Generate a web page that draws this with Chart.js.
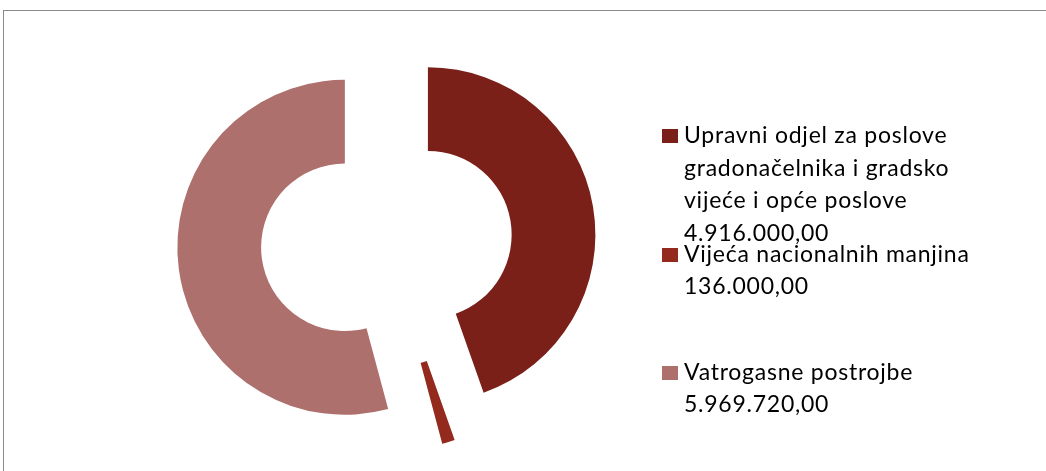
<!DOCTYPE html>
<html>
<head>
<meta charset="utf-8">
<script src="https://cdn.jsdelivr.net/npm/chart.js@4.4.1/dist/chart.umd.min.js"></script>
<style>
  body { margin: 0; background: #fff; }
  #wrap { position: relative; width: 1046px; height: 471px; overflow: hidden; }
  #frame { position: absolute; left: 3px; top: 10px; width: 1100px; height: 500px;
           border-top: 1px solid #8a8a8a; border-left: 1px solid #8a8a8a; }
  #budgetChart { position: absolute; left: 0; top: 0; }
  .item { position: absolute; left: 662px; }
  .box { position: absolute; left: 0; top: 11px; width: 16px; height: 14px; }
  .txt { position: absolute; left: 22px; top: 0; white-space: pre; font-family: Lato, sans-serif;
         font-size: 23px; letter-spacing: 0.75px; line-height: 32.7px; color: #000; }
</style>
</head>
<body>
<div id="wrap">
  <div id="frame"></div>
  <canvas id="budgetChart" width="1046" height="471"></canvas>
  <div id="legend"></div>
</div>
<script>
// Chart data
const categories = [
    'Upravni odjel za poslove\ngradonačelnika i gradsko\nvijeće i opće poslove',
    'Vijeća nacionalnih manjina',
    'Vatrogasne postrojbe'
];
const values = [4916000, 136000, 5969720];
const colors = ['#7a2018', '#94291e', '#ae706c'];
const explode = [42, 42, 42];

function formatHr(v) {
    const parts = v.toFixed(2).split('.');
    return parts[0].replace(/\B(?=(\d{3})+(?!\d))/g, '.') + ',' + parts[1];
}

// pushes each slice out along its middle angle, like an exploded Excel doughnut
const explodePlugin = {
    id: 'explode',
    afterDatasetUpdate(chart, args) {
        const meta = chart.getDatasetMeta(args.index);
        meta.data.forEach(function(arc, i) {
            const mid = (arc.startAngle + arc.endAngle) / 2;
            arc.x += Math.cos(mid) * explode[i];
            arc.y += Math.sin(mid) * explode[i];
        });
    }
};

document.addEventListener('DOMContentLoaded', function() {
    initChart();
    buildLegend();
});

function initChart() {
    const ctx = document.getElementById('budgetChart');
    new Chart(ctx, {
        type: 'doughnut',
        data: {
            labels: categories,
            datasets: [{
                data: values,
                backgroundColor: colors,
                borderWidth: 0,
                clip: false
            }]
        },
        options: {
            responsive: false,
            animation: false,
            events: [],
            devicePixelRatio: 1,
            radius: 167.5,
            cutout: '50%',
            layout: {
                padding: { left: 0, right: 273, top: 12.6, bottom: 0 }
            },
            plugins: {
                legend: { display: false },
                tooltip: { enabled: false }
            }
        },
        plugins: [explodePlugin]
    });
}

function buildLegend() {
    const legend = document.getElementById('legend');
    const tops = [118, 236.7, 354.7];
    categories.forEach(function(name, i) {
        const item = document.createElement('div');
        item.className = 'item';
        item.style.top = tops[i] + 'px';
        const box = document.createElement('div');
        box.className = 'box';
        box.style.background = colors[i];
        const txt = document.createElement('div');
        txt.className = 'txt';
        txt.textContent = name + '\n' + formatHr(values[i]);
        item.appendChild(box);
        item.appendChild(txt);
        legend.appendChild(item);
    });
}
</script>
</body>
</html>
